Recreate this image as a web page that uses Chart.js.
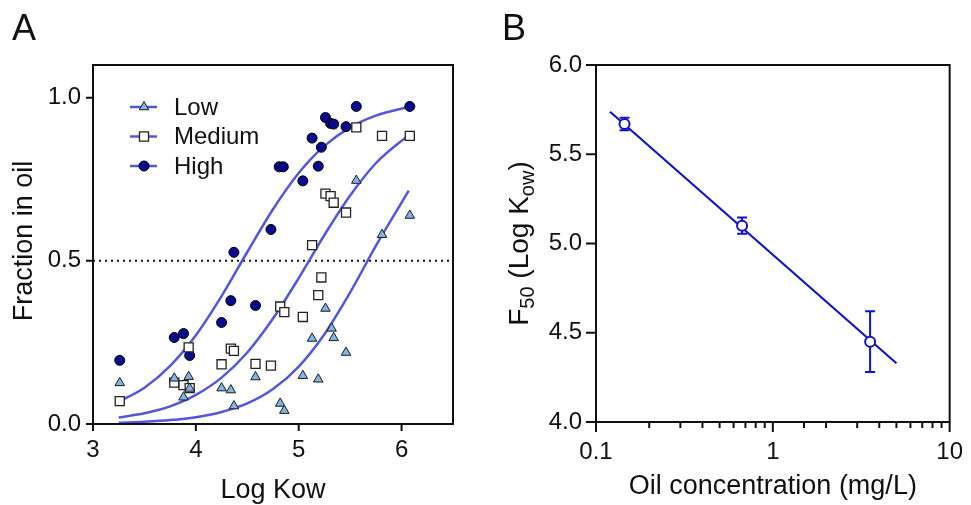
<!DOCTYPE html>
<html>
<head>
<meta charset="utf-8">
<script src="https://cdn.jsdelivr.net/npm/chart.js@4.4.0/dist/chart.umd.min.js"></script>
<style>
  html, body { margin: 0; padding: 0; background: #fff; }
  #wrap { position: relative; width: 971px; height: 505px; }
  canvas { position: absolute; top: 0; }
</style>
</head>
<body>
<div id="wrap">
  <canvas id="chartA" width="485" height="505" style="left:0"></canvas>
  <canvas id="chartB" width="486" height="505" style="left:485px"></canvas>
</div>
<script>
// ---- Panel A data (Log Kow vs fraction in oil) ----
const lowX  = [3.26, 3.79, 3.88, 3.93, 3.94, 4.25, 4.34, 4.37, 4.58, 4.82, 4.86, 5.04, 5.13, 5.19, 5.26, 5.32, 5.34, 5.46, 5.56, 5.81, 6.08];
const lowY  = [0.126, 0.140, 0.082, 0.145, 0.109, 0.110, 0.104, 0.055, 0.144, 0.063, 0.041, 0.148, 0.262, 0.137, 0.354, 0.293, 0.264, 0.219, 0.746, 0.580, 0.639];
const medX  = [3.26, 3.93, 3.79, 3.88, 3.94, 4.34, 4.37, 4.25, 4.58, 4.73, 4.82, 4.86, 5.04, 5.13, 5.19, 5.22, 5.26, 5.31, 5.34, 5.46, 5.56, 5.81, 6.08];
const medY  = [0.070, 0.235, 0.127, 0.119, 0.110, 0.231, 0.224, 0.183, 0.184, 0.179, 0.360, 0.343, 0.328, 0.548, 0.395, 0.449, 0.706, 0.698, 0.678, 0.648, 0.909, 0.883, 0.883];
const highX = [3.26, 3.79, 3.88, 3.94, 4.25, 4.34, 4.37, 4.58, 4.73, 4.81, 4.85, 5.04, 5.13, 5.19, 5.22, 5.26, 5.31, 5.34, 5.46, 5.56, 6.08];
const highY = [0.195, 0.265, 0.277, 0.210, 0.311, 0.378, 0.526, 0.363, 0.596, 0.788, 0.788, 0.745, 0.876, 0.790, 0.848, 0.939, 0.921, 0.919, 0.911, 0.973, 0.973];

// fitted curves
const curveX    = [3.25, 3.5, 3.75, 4.0, 4.25, 4.5, 4.75, 5.0, 5.25, 5.5, 5.75, 6.07];
const curveLow  = [0.004, 0.007, 0.012, 0.021, 0.037, 0.063, 0.107, 0.176, 0.275, 0.403, 0.546, 0.715];
const curveMed  = [0.020, 0.033, 0.054, 0.089, 0.142, 0.219, 0.323, 0.447, 0.579, 0.700, 0.799, 0.886];
const curveHigh = [0.068, 0.111, 0.178, 0.272, 0.392, 0.527, 0.658, 0.769, 0.852, 0.909, 0.945, 0.972];

const xTicksA = [3, 4, 5, 6];
const yTicksA = [0, 0.5, 1.0];
const seriesNames = ['Low', 'Medium', 'High'];

// ---- Panel B data (F50 vs oil concentration) ----
const concB = [0.145, 0.67, 3.55];
const f50B  = [5.67, 5.10, 4.45];
const errB  = [0.035, 0.045, 0.17];
const fitConcB = [0.12, 5.0];
const fitF50B  = [5.738, 4.329];
const xTickLabelsB = [0.1, 1, 10];
const yTicksB = [4.0, 4.5, 5.0, 5.5, 6.0];

const FONT = 'Liberation Sans, Arial, Helvetica, sans-serif';
const curveColor = '#5656dc';
const blueB = '#1212c6';

const pts = (xs, ys) => xs.map((x, i) => ({ x: x, y: ys[i] }));

const markerStyles = [
  { pointStyle: 'triangle', radius: 5.5, bg: '#82b4e6', border: '#1a1a1a', bw: 1 },
  { pointStyle: 'rect', radius: 6.4, bg: '#ffffff', border: '#222222', bw: 1.3 },
  { pointStyle: 'circle', radius: 5, bg: '#0a0a8c', border: '#000000', bw: 1 }
];

function scatterSet(xs, ys, m) {
  return {
    type: 'scatter', data: pts(xs, ys), order: 1,
    pointStyle: m.pointStyle, pointRadius: m.radius,
    backgroundColor: m.bg, borderColor: m.border, borderWidth: m.bw
  };
}
function curveSet(ys) {
  return {
    type: 'line', data: pts(curveX, ys), order: 2,
    borderColor: curveColor, borderWidth: 2.5, pointRadius: 0,
    cubicInterpolationMode: 'monotone', fill: false
  };
}

const panelA = {
  id: 'panelA',
  afterDraw(chart) {
    const ctx = chart.ctx, a = chart.chartArea;
    const xs = chart.scales.x, ys = chart.scales.y;
    ctx.save();
    ctx.strokeStyle = '#111'; ctx.lineWidth = 2;
    ctx.strokeRect(a.left, a.top, a.right - a.left, a.bottom - a.top);
    ctx.beginPath();
    xTicksA.forEach(v => { const p = xs.getPixelForValue(v); ctx.moveTo(p, a.bottom); ctx.lineTo(p, a.bottom + 7); });
    yTicksA.forEach(v => { const p = ys.getPixelForValue(v); ctx.moveTo(a.left - 7, p); ctx.lineTo(a.left, p); });
    ctx.stroke();

    // legend inside plot
    seriesNames.forEach((name, i) => {
      const y = 107 + i * 29.5;
      ctx.strokeStyle = curveColor; ctx.lineWidth = 2.5;
      ctx.beginPath(); ctx.moveTo(130, y); ctx.lineTo(157, y); ctx.stroke();
      const m = markerStyles[i];
      ctx.fillStyle = m.bg; ctx.strokeStyle = m.border; ctx.lineWidth = m.bw;
      Chart.helpers.drawPoint(ctx, { pointStyle: m.pointStyle, radius: m.radius, rotation: 0, borderWidth: m.bw }, 144, y);
      ctx.fillStyle = '#111'; ctx.font = '24px ' + FONT;
      ctx.textAlign = 'left'; ctx.textBaseline = 'middle';
      ctx.fillText(name, 174, y + 1);
    });

    ctx.fillStyle = '#111';
    ctx.font = '27px ' + FONT; ctx.textAlign = 'center'; ctx.textBaseline = 'alphabetic';
    ctx.fillText('Log Kow', (a.left + a.right) / 2, 498);
    ctx.save();
    ctx.translate(32, 241); ctx.rotate(-Math.PI / 2);
    ctx.fillText('Fraction in oil', 0, 0);
    ctx.restore();
    ctx.font = '36px ' + FONT; ctx.textAlign = 'left';
    ctx.fillText('A', 12, 40);
    ctx.restore();
  }
};

new Chart(document.getElementById('chartA'), {
  data: {
    datasets: [
      scatterSet(lowX, lowY, markerStyles[0]),
      scatterSet(medX, medY, markerStyles[1]),
      scatterSet(highX, highY, markerStyles[2]),
      curveSet(curveLow), curveSet(curveMed), curveSet(curveHigh),
      {
        type: 'line', data: [{ x: 3, y: 0.5 }, { x: 6.5, y: 0.5 }], order: 3,
        borderColor: '#111', borderWidth: 2, borderDash: [2, 4], pointRadius: 0
      }
    ]
  },
  options: {
    responsive: false, animation: false, devicePixelRatio: 1, events: [],
    layout: { autoPadding: false, padding: { left: 0, top: 65, right: 32, bottom: 0 } },
    plugins: { legend: { display: false }, tooltip: { enabled: false } },
    scales: {
      x: {
        type: 'linear', min: 3, max: 6.5,
        grid: { display: false }, border: { display: false },
        afterBuildTicks: s => { s.ticks = xTicksA.map(v => ({ value: v })); },
        afterFit: s => { s.height = 81; },
        ticks: { font: { family: FONT, size: 24 }, color: '#111', padding: 4, maxRotation: 0 }
      },
      y: {
        type: 'linear', min: 0, max: 1.1,
        grid: { display: false }, border: { display: false },
        afterBuildTicks: s => { s.ticks = yTicksA.map(v => ({ value: v })); },
        afterFit: s => { s.width = 93; },
        ticks: { font: { family: FONT, size: 24 }, color: '#111', padding: 4, callback: v => v.toFixed(1) }
      }
    }
  },
  plugins: [panelA]
});

const panelB = {
  id: 'panelB',
  beforeDatasetsDraw(chart) {
    const ctx = chart.ctx, xs = chart.scales.x, ys = chart.scales.y;
    ctx.save();
    ctx.strokeStyle = blueB; ctx.lineWidth = 2;
    ctx.beginPath();
    concB.forEach((c, i) => {
      const px = xs.getPixelForValue(c);
      const lo = ys.getPixelForValue(f50B[i] - errB[i]);
      const hi = ys.getPixelForValue(f50B[i] + errB[i]);
      ctx.moveTo(px, lo); ctx.lineTo(px, hi);
      ctx.moveTo(px - 5, lo); ctx.lineTo(px + 5, lo);
      ctx.moveTo(px - 5, hi); ctx.lineTo(px + 5, hi);
    });
    ctx.stroke();
    ctx.restore();
  },
  afterDraw(chart) {
    const ctx = chart.ctx, a = chart.chartArea;
    const xs = chart.scales.x, ys = chart.scales.y;
    ctx.save();
    ctx.strokeStyle = '#111'; ctx.lineWidth = 2;
    ctx.strokeRect(a.left, a.top, a.right - a.left, a.bottom - a.top);
    ctx.beginPath();
    xs.ticks.forEach(t => {
      const major = xTickLabelsB.some(m => Math.abs(m - t.value) < 1e-9);
      const p = xs.getPixelForValue(t.value);
      ctx.moveTo(p, a.bottom); ctx.lineTo(p, a.bottom + (major ? 10 : 6));
    });
    yTicksB.forEach(v => { const p = ys.getPixelForValue(v); ctx.moveTo(a.left - 10, p); ctx.lineTo(a.left, p); });
    ctx.stroke();

    ctx.fillStyle = '#111';
    ctx.font = '27px ' + FONT; ctx.textAlign = 'center'; ctx.textBaseline = 'alphabetic';
    ctx.fillText('Oil concentration (mg/L)', (a.left + a.right) / 2, 494);

    // y title with subscripts: F50 (Log Kow)
    const parts = [['F', 28, 0], ['50', 20, 6], [' (Log K', 28, 0], ['ow', 20, 6], [')', 28, 0]];
    let total = 0;
    parts.forEach(p => { ctx.font = p[1] + 'px ' + FONT; total += ctx.measureText(p[0]).width; });
    ctx.save();
    ctx.translate(43, 243.5); ctx.rotate(-Math.PI / 2);
    ctx.textAlign = 'left';
    let cx = -total / 2;
    parts.forEach(p => {
      ctx.font = p[1] + 'px ' + FONT;
      ctx.fillText(p[0], cx, p[2]);
      cx += ctx.measureText(p[0]).width;
    });
    ctx.restore();

    ctx.font = '36px ' + FONT; ctx.textAlign = 'left';
    ctx.fillText('B', 17, 40);
    ctx.restore();
  }
};

new Chart(document.getElementById('chartB'), {
  data: {
    datasets: [
      {
        type: 'scatter', data: pts(concB, f50B), order: 1,
        pointStyle: 'circle', pointRadius: 5, backgroundColor: '#fff',
        borderColor: blueB, borderWidth: 2
      },
      {
        type: 'line', data: pts(fitConcB, fitF50B), order: 2,
        borderColor: blueB, borderWidth: 2.2, pointRadius: 0
      }
    ]
  },
  options: {
    responsive: false, animation: false, devicePixelRatio: 1, events: [],
    layout: { autoPadding: false, padding: { left: 0, top: 65, right: 15, bottom: 0 } },
    plugins: { legend: { display: false }, tooltip: { enabled: false } },
    scales: {
      x: {
        type: 'logarithmic', min: 0.1, max: 10,
        grid: { display: false }, border: { display: false },
        afterFit: s => { s.height = 83; },
        ticks: {
          font: { family: FONT, size: 24 }, color: '#111', padding: 8,
          autoSkip: false, maxRotation: 0,
          callback: v => xTickLabelsB.some(m => Math.abs(m - v) < 1e-9) ? String(v) : ''
        }
      },
      y: {
        type: 'linear', min: 4, max: 6,
        grid: { display: false }, border: { display: false },
        afterBuildTicks: s => { s.ticks = yTicksB.map(v => ({ value: v })); },
        afterFit: s => { s.width = 111; },
        ticks: { font: { family: FONT, size: 24 }, color: '#111', padding: 6, callback: v => v.toFixed(1) }
      }
    }
  },
  plugins: [panelB]
});
</script>
</body>
</html>
